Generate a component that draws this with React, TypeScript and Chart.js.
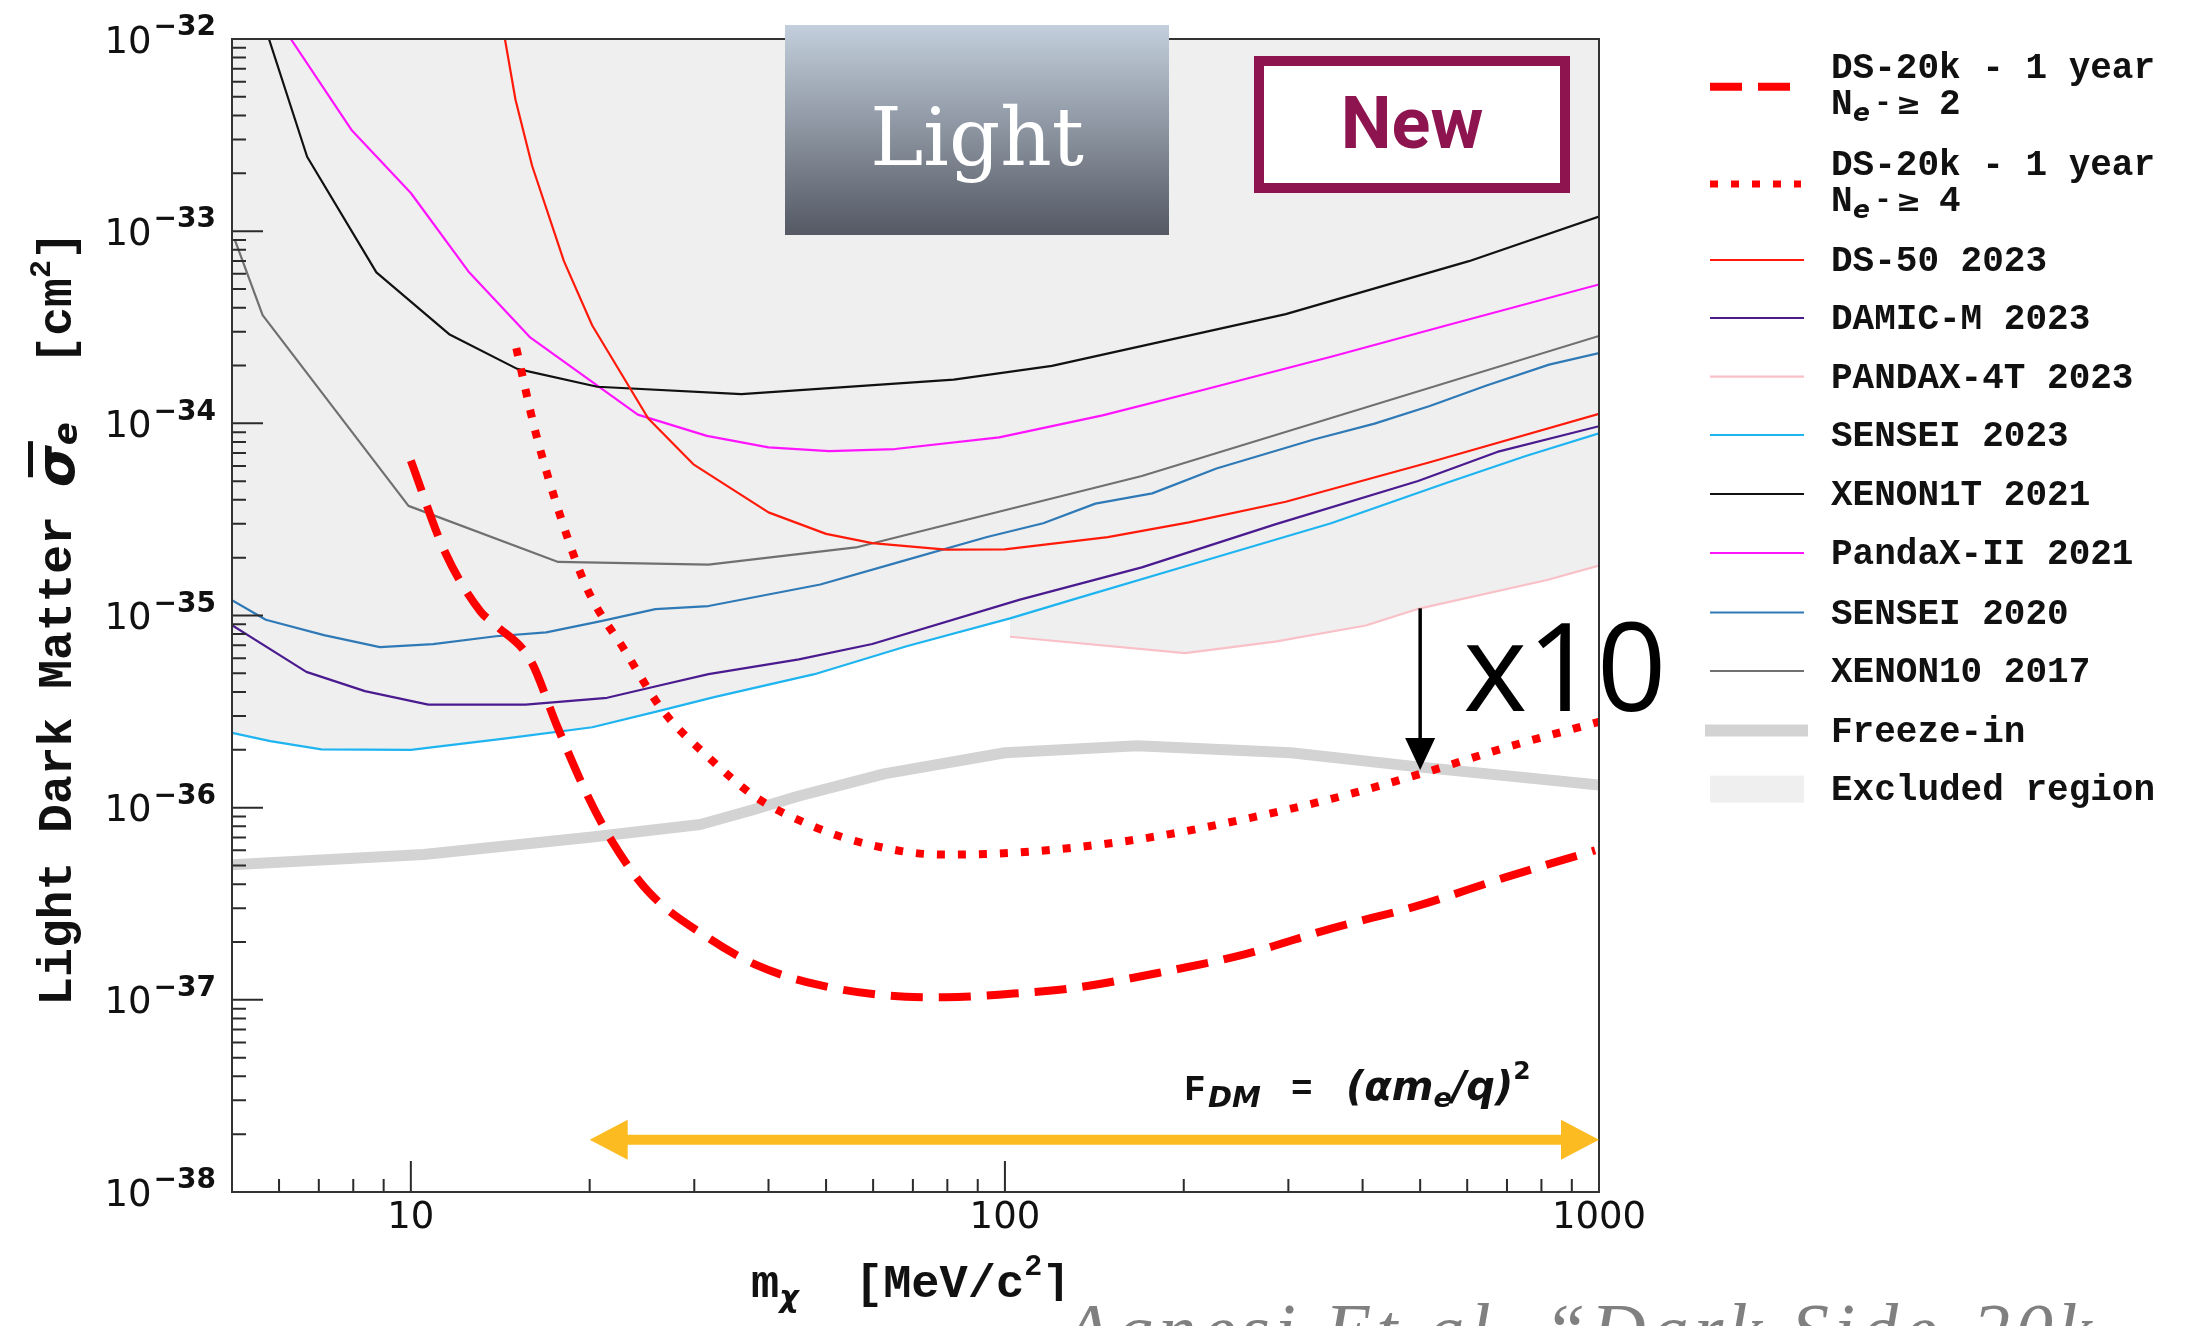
import { useEffect, useRef } from "react";
import { Chart, registerables } from "chart.js";

Chart.register(...registerables);

// Axis ranges (MeV/c^2 and cm^2)
const massMin = 5;
const massMax = 1000;
const sigmaMin = 1e-38;
const sigmaMax = 1e-32;
const xMajorTicks = [10, 100, 1000];
const xMajorLabels = ["10", "100", "1000"];
const yDecades = [-32, -33, -34, -35, -36, -37, -38];

// DarkSide-20k, 1 year, Ne- >= 2
const ds20kNe2Mass = [10, 11.4, 13.1, 13.9, 15.9, 17.6, 19.8, 21.8, 25.1, 31.7, 38.3, 47.8, 64, 79.6, 100, 130, 181, 254, 354, 496, 691, 985];
const ds20kNe2Sigma = [6.4e-35, 2.16e-35, 1.05e-35, 8.9e-36, 5.85e-36, 2.69e-36, 1.17e-36, 6.7e-37, 3.66e-37, 2.1e-37, 1.51e-37, 1.21e-37, 1.05e-37, 1.03e-37, 1.07e-37, 1.15e-37, 1.38e-37, 1.73e-37, 2.35e-37, 3.09e-37, 4.31e-37, 6.0e-37];

// DarkSide-20k, 1 year, Ne- >= 4
const ds20kNe4Mass = [15.05, 16.2, 17.9, 19.8, 22.9, 26.6, 31.7, 38, 47.8, 59.8, 78, 97.8, 130, 181, 260, 354, 501, 691, 1000];
const ds20kNe4Sigma = [2.46e-34, 9.1e-35, 3.21e-35, 1.38e-35, 6.6e-36, 3.18e-36, 1.83e-36, 1.14e-36, 7.94e-37, 6.37e-37, 5.7e-37, 5.77e-37, 6.19e-37, 7.11e-37, 8.88e-37, 1.11e-36, 1.5e-36, 2.04e-36, 2.8e-36];

// Freeze-in benchmark
const freezeInMass = [5, 10.5, 20.2, 30.7, 37.3, 45, 62.6, 100, 167, 303, 496, 1000];
const freezeInSigma = [5.05e-37, 5.7e-37, 7.04e-37, 8.18e-37, 9.66e-37, 1.15e-36, 1.5e-36, 1.93e-36, 2.1e-36, 1.93e-36, 1.63e-36, 1.31e-36];

// Existing limits
const ds50Mass = [14.4, 15.0, 16.0, 18.1, 20.2, 25.1, 29.9, 40, 50, 59.8, 79.6, 99.9, 149, 204, 297, 519, 1000];
const ds50Sigma = [1e-32, 4.84e-33, 2.19e-33, 6.98e-34, 3.23e-34, 1.06e-34, 6.12e-35, 3.44e-35, 2.66e-35, 2.38e-35, 2.2e-35, 2.21e-35, 2.56e-35, 3.05e-35, 3.91e-35, 6.27e-35, 1.12e-34];

const damicMass = [5, 6.67, 8.37, 10.7, 15.6, 21.4, 26.1, 31.7, 45, 59.8, 106, 170, 285, 496, 674, 1000];
const damicSigma = [8.9e-36, 5.09e-36, 4.04e-36, 3.44e-36, 3.44e-36, 3.73e-36, 4.31e-36, 4.95e-36, 5.91e-36, 7.11e-36, 1.21e-35, 1.78e-35, 2.98e-35, 5.01e-35, 7.1e-35, 9.66e-35];

const pandax4tMass = [102, 201, 285, 405, 500, 818, 1000];
const pandax4tSigma = [7.75e-36, 6.37e-36, 7.31e-36, 8.87e-36, 1.09e-35, 1.53e-35, 1.82e-35];

const sensei23Mass = [5, 5.8, 7.07, 10, 14.7, 20.2, 26.1, 32.4, 47.8, 68.3, 102, 130, 208, 354, 553, 753, 1000];
const sensei23Sigma = [2.45e-36, 2.22e-36, 2.01e-36, 2.0e-36, 2.31e-36, 2.62e-36, 3.18e-36, 3.76e-36, 4.95e-36, 6.92e-36, 9.66e-36, 1.21e-35, 1.86e-35, 3.02e-35, 4.89e-35, 6.76e-35, 8.87e-35];

const xenon1tMass = [5.77, 6.69, 8.75, 11.6, 15.1, 20.6, 36, 82, 120, 297, 604, 1000];
const xenon1tSigma = [1e-32, 2.44e-33, 6.1e-34, 2.91e-34, 1.92e-34, 1.55e-34, 1.42e-34, 1.69e-34, 1.99e-34, 3.7e-34, 6.98e-34, 1.19e-33];

const pandax2Mass = [6.28, 7.96, 10.0, 12.5, 15.9, 24.1, 31.5, 40, 50.6, 65.3, 97.8, 146, 217, 354, 553, 1000];
const pandax2Sigma = [1e-32, 3.34e-33, 1.58e-33, 6.17e-34, 2.79e-34, 1.11e-34, 8.6e-35, 7.5e-35, 7.16e-35, 7.35e-35, 8.45e-35, 1.1e-34, 1.5e-34, 2.22e-34, 3.23e-34, 5.28e-34];

const sensei20Mass = [5, 5.7, 7.14, 8.87, 10.9, 13.9, 16.9, 21.0, 25.8, 31.7, 48.9, 66.5, 93.3, 116, 142, 177, 227, 331, 419, 519, 645, 824, 1000];
const sensei20Sigma = [1.2e-35, 9.5e-36, 7.9e-36, 6.85e-36, 7.1e-36, 7.8e-36, 8.17e-36, 9.38e-36, 1.08e-35, 1.12e-35, 1.45e-35, 1.9e-35, 2.56e-35, 3.02e-35, 3.82e-35, 4.32e-35, 5.82e-35, 8.24e-35, 9.96e-35, 1.23e-34, 1.57e-34, 2.02e-34, 2.32e-34];

const xenon10Mass = [5.05, 5.63, 9.91, 17.7, 31.7, 56.1, 170, 1000];
const xenon10Sigma = [9.1e-34, 3.66e-34, 3.72e-35, 1.9e-35, 1.84e-35, 2.26e-35, 5.32e-35, 2.85e-34];

// Annotations in data coordinates
const x10ArrowMass = 500;
const x10ArrowSigma = [1.09e-35, 1.57e-36];
const fdmArrowMass = [20, 1000];
const fdmArrowSigma = 1.87e-38;

// Legend
const legendLabels = [
  "DS-20k - 1 year",
  "DS-20k - 1 year",
  "DS-50 2023",
  "DAMIC-M 2023",
  "PANDAX-4T 2023",
  "SENSEI 2023",
  "XENON1T 2021",
  "PandaX-II 2021",
  "SENSEI 2020",
  "XENON10 2017",
  "Freeze-in",
  "Excluded region",
];
const legendThresholds = ["2", "4"];

const MONO = "'Liberation Mono', 'DejaVu Sans Mono', monospace";
const SANS = "'DejaVu Sans', sans-serif";
const EXCLUDED = "#efefef";

type Series = {
  key: string;
  mass: number[];
  sigma: number[];
  color: string;
  width: number;
  dash?: number[];
  excluded?: boolean;
  smooth?: boolean;
};

// Earlier entries are painted on top
const series: Series[] = [
  { key: "ne2", mass: ds20kNe2Mass, sigma: ds20kNe2Sigma, color: "#ff0000", width: 8, dash: [32, 16], smooth: true },
  { key: "ne4", mass: ds20kNe4Mass, sigma: ds20kNe4Sigma, color: "#ff0000", width: 8, dash: [8, 13], smooth: true },
  { key: "freeze", mass: freezeInMass, sigma: freezeInSigma, color: "#d3d3d3", width: 11 },
  { key: "ds50", mass: ds50Mass, sigma: ds50Sigma, color: "#ff1a0a", width: 2.2, excluded: true },
  { key: "damic", mass: damicMass, sigma: damicSigma, color: "#4a1a8f", width: 2.2, excluded: true },
  { key: "pandax4t", mass: pandax4tMass, sigma: pandax4tSigma, color: "#f9c0c8", width: 2.2, excluded: true },
  { key: "sensei23", mass: sensei23Mass, sigma: sensei23Sigma, color: "#1eb4f0", width: 2.2, excluded: true },
  { key: "xenon1t", mass: xenon1tMass, sigma: xenon1tSigma, color: "#111111", width: 2.2, excluded: true },
  { key: "pandax2", mass: pandax2Mass, sigma: pandax2Sigma, color: "#ff14ff", width: 2.2, excluded: true },
  { key: "sensei20", mass: sensei20Mass, sigma: sensei20Sigma, color: "#2f7ab6", width: 2.2, excluded: true },
  { key: "xenon10", mass: xenon10Mass, sigma: xenon10Sigma, color: "#707070", width: 2.2, excluded: true },
];

const legendKeys = ["ne2", "ne4", "ds50", "damic", "pandax4t", "sensei23", "xenon1t", "pandax2", "sensei20", "xenon10", "freeze", "excluded"];

type Piece = { t: string; font: string; dy?: number };

function drawRun(ctx: CanvasRenderingContext2D, pieces: Piece[], x: number, y: number) {
  let cx = x;
  for (const p of pieces) {
    ctx.font = p.font;
    ctx.fillText(p.t, cx, y + (p.dy ?? 0));
    cx += ctx.measureText(p.t).width;
  }
  return cx;
}

function runWidth(ctx: CanvasRenderingContext2D, pieces: Piece[]) {
  let w = 0;
  for (const p of pieces) {
    ctx.font = p.font;
    w += ctx.measureText(p.t).width;
  }
  return w;
}

const decorPlugin = {
  id: "decor",
  afterDraw(chart: any) {
    const ctx: CanvasRenderingContext2D = chart.ctx;
    const { left, right, top, bottom } = chart.chartArea;
    const xs = chart.scales.x;
    const ys = chart.scales.y;
    ctx.save();

    // Inward tick marks
    ctx.strokeStyle = "#2b2b2b";
    ctx.lineWidth = 2;
    ctx.beginPath();
    for (const e of yDecades) {
      const y = ys.getPixelForValue(Math.pow(10, e));
      ctx.moveTo(left, y);
      ctx.lineTo(left + 31, y);
      if (e > -38) {
        for (let k = 2; k <= 9; k++) {
          const yy = ys.getPixelForValue(k * Math.pow(10, e - 1));
          ctx.moveTo(left, yy);
          ctx.lineTo(left + 14, yy);
        }
      }
    }
    for (let d = 0; d <= 2; d++) {
      for (let k = 1; k <= 9; k++) {
        const v = k * Math.pow(10, d);
        if (v <= massMin || v >= massMax) continue;
        const x = xs.getPixelForValue(v);
        ctx.moveTo(x, bottom);
        ctx.lineTo(x, bottom - (k === 1 ? 31 : 13));
      }
    }
    ctx.stroke();

    // Frame
    ctx.strokeStyle = "#333333";
    ctx.lineWidth = 2;
    ctx.strokeRect(left, top, right - left, bottom - top);

    // Y tick labels 10^n
    ctx.fillStyle = "#111111";
    ctx.textAlign = "left";
    ctx.textBaseline = "middle";
    for (const e of yDecades) {
      const y = ys.getPixelForValue(Math.pow(10, e));
      const sup = "\u2212" + Math.abs(e);
      ctx.font = `bold 28px ${SANS}`;
      const sw = ctx.measureText(sup).width;
      const supX = 216 - sw;
      ctx.fillText(sup, supX, y - 11);
      ctx.font = `37px ${SANS}`;
      const bw = ctx.measureText("10").width;
      ctx.fillText("10", supX - bw - 2, y + 4);
    }

    // X tick labels
    ctx.textAlign = "center";
    ctx.font = `37px ${SANS}`;
    xMajorTicks.forEach((v, i) => {
      ctx.fillText(xMajorLabels[i], xs.getPixelForValue(v), 1218);
    });

    // "Light" badge
    const grad = ctx.createLinearGradient(0, 25, 0, 235);
    grad.addColorStop(0, "#c3cfdc");
    grad.addColorStop(1, "#545964");
    ctx.fillStyle = grad;
    ctx.fillRect(785, 25, 384, 210);
    ctx.fillStyle = "#ffffff";
    ctx.textAlign = "center";
    ctx.textBaseline = "alphabetic";
    ctx.font = `80px 'DejaVu Serif', serif`;
    ctx.fillText("Light", 977, 165);

    // "New" badge
    ctx.fillStyle = "#ffffff";
    ctx.fillRect(1254, 56, 316, 137);
    ctx.strokeStyle = "#8e1450";
    ctx.lineWidth = 10;
    ctx.strokeRect(1259, 61, 306, 127);
    ctx.fillStyle = "#8e1450";
    ctx.font = `bold 72px Roboto, 'Open Sans', sans-serif`;
    ctx.fillText("New", 1412, 148);

    // x10 arrow
    const ax = xs.getPixelForValue(x10ArrowMass);
    const ay0 = ys.getPixelForValue(x10ArrowSigma[0]);
    const ay1 = ys.getPixelForValue(x10ArrowSigma[1]);
    ctx.strokeStyle = "#000000";
    ctx.lineWidth = 3.5;
    ctx.beginPath();
    ctx.moveTo(ax, ay0);
    ctx.lineTo(ax, ay1 - 30);
    ctx.stroke();
    ctx.fillStyle = "#000000";
    ctx.beginPath();
    ctx.moveTo(ax, ay1);
    ctx.lineTo(ax - 15, ay1 - 32);
    ctx.lineTo(ax + 15, ay1 - 32);
    ctx.closePath();
    ctx.fill();
    ctx.textAlign = "left";
    ctx.font = `122px 'Open Sans', sans-serif`;
    ctx.fillText("x10", ax + 43, 711);

    // F_DM label
    ctx.fillStyle = "#111111";
    ctx.font = `bold 36px ${MONO}`;
    ctx.fillText("F", 1184, 1100);
    ctx.font = `bold italic 29px ${SANS}`;
    ctx.fillText("DM", 1208, 1107);
    ctx.font = `bold 36px ${MONO}`;
    ctx.fillText("=", 1291, 1100);
    drawRun(
      ctx,
      [
        { t: "(\u03b1m", font: `bold italic 40px ${SANS}` },
        { t: "e", font: `bold italic 27px ${SANS}`, dy: 7 },
        { t: "/q)", font: `bold italic 40px ${SANS}` },
        { t: "2", font: `bold 25px ${SANS}`, dy: -21 },
      ],
      1346,
      1100
    );

    // F_DM validity arrow
    const fy = ys.getPixelForValue(fdmArrowSigma);
    const fx0 = xs.getPixelForValue(fdmArrowMass[0]);
    const fx1 = xs.getPixelForValue(fdmArrowMass[1]);
    ctx.fillStyle = "#fbbb21";
    ctx.fillRect(fx0 + 36, fy - 5, fx1 - fx0 - 72, 10);
    ctx.beginPath();
    ctx.moveTo(fx0, fy);
    ctx.lineTo(fx0 + 38, fy - 20);
    ctx.lineTo(fx0 + 38, fy + 20);
    ctx.closePath();
    ctx.fill();
    ctx.beginPath();
    ctx.moveTo(fx1, fy);
    ctx.lineTo(fx1 - 38, fy - 20);
    ctx.lineTo(fx1 - 38, fy + 20);
    ctx.closePath();
    ctx.fill();

    // Legend
    const rowY = [86.7, 184, 260, 318, 376.7, 435, 494, 553, 612.5, 671, 730.6, 788.6];
    const lx0 = 1710;
    const lx1 = 1804;
    const tx = 1831;
    legendKeys.forEach((key, i) => {
      const y = rowY[i];
      if (key === "excluded") {
        ctx.fillStyle = EXCLUDED;
        ctx.fillRect(lx0, y - 13, lx1 - lx0, 27);
      } else {
        const s = series.find((q) => q.key === key)!;
        ctx.strokeStyle = s.color;
        ctx.lineWidth = key === "freeze" ? 12 : key === "ne4" ? 7 : s.width;
        ctx.setLineDash(s.dash ?? []);
        ctx.lineCap = "butt";
        ctx.beginPath();
        ctx.moveTo(key === "freeze" ? lx0 - 5 : lx0, y);
        ctx.lineTo(key === "freeze" ? lx1 + 4 : key === "ne4" ? lx1 - 3 : lx1, y);
        ctx.stroke();
        ctx.setLineDash([]);
      }
      ctx.fillStyle = "#111111";
      ctx.textAlign = "left";
      ctx.textBaseline = "alphabetic";
      if (key === "ne2" || key === "ne4") {
        ctx.font = `bold 36px ${MONO}`;
        ctx.fillText(legendLabels[i], tx, y - 20 + 11);
        const by = y + 16 + 11;
        ctx.fillText("N", tx, by);
        ctx.font = `bold italic 25px ${SANS}`;
        ctx.fillText("e", tx + 22, by + 7);
        ctx.font = `bold 30px ${MONO}`;
        ctx.fillText("-", tx + 43, by - 3);
        ctx.font = `bold 30px ${SANS}`;
        ctx.fillText("\u2265", tx + 65, by);
        ctx.font = `bold 36px ${MONO}`;
        ctx.fillText(legendThresholds[i], tx + 108, by);
      } else {
        ctx.font = `bold 36px ${MONO}`;
        ctx.fillText(legendLabels[i], tx, y + 11);
      }
    });

    // Y axis title
    ctx.save();
    ctx.translate(56, 618.5);
    ctx.rotate(-Math.PI / 2);
    ctx.fillStyle = "#111111";
    const yTitle: Piece[] = [
      { t: "Light Dark Matter ", font: `bold 48px ${MONO}` },
      { t: "\u03c3", font: `bold italic 54px ${SANS}`, dy: 3 },
      { t: "e", font: `bold italic 34px ${SANS}`, dy: 6 },
      { t: "  [cm", font: `bold 48px ${MONO}` },
      { t: "2", font: `bold 30px ${MONO}`, dy: -21 },
      { t: "]", font: `bold 48px ${MONO}` },
    ];
    const tw = runWidth(ctx, yTitle);
    const start = -tw / 2;
    drawRun(ctx, yTitle, start, 15);
    ctx.font = `bold 48px ${MONO}`;
    const sigX = start + ctx.measureText("Light Dark Matter ").width;
    ctx.font = `bold italic 54px ${SANS}`;
    const sigW = ctx.measureText("\u03c3").width;
    ctx.fillRect(sigX + 10, 15 + 3 - 46, sigW - 6, 5);
    ctx.restore();

    // X axis title
    ctx.fillStyle = "#111111";
    drawRun(
      ctx,
      [
        { t: "m", font: `bold 47px ${MONO}` },
        { t: "\u03c7", font: `bold italic 30px ${SANS}`, dy: 10 },
        { t: "  [MeV/c", font: `bold 47px ${MONO}` },
        { t: "2", font: `bold 30px ${MONO}`, dy: -22 },
        { t: "]", font: `bold 47px ${MONO}` },
      ],
      751,
      1297
    );

    // Citation strip along the bottom edge
    ctx.fillStyle = "#ffffff";
    ctx.fillRect(1048, 1301, 2188 - 1048, 30);
    ctx.fillStyle = "#808080";
    ctx.font = `italic 76px 'Liberation Serif', serif`;
    (ctx as any).letterSpacing = "5px";
    ctx.fillText("Agnesi Et al. \u201cDark Side-20k", 1064, 1356);
    (ctx as any).letterSpacing = "0px";

    ctx.restore();
  },
};

export default function App() {
  const canvasRef = useRef<HTMLCanvasElement>(null);

  useEffect(() => {
    const canvas = canvasRef.current;
    if (!canvas) return;
    const datasets = series.map((s) => ({
      label: s.key,
      data: s.mass.map((m, i) => ({ x: m, y: s.sigma[i] })),
      borderColor: s.color,
      borderWidth: s.width,
      borderDash: s.dash ?? [],
      borderCapStyle: "butt" as const,
      borderJoinStyle: "round" as const,
      pointRadius: 0,
      pointHoverRadius: 0,
      fill: s.excluded ? "end" : false,
      backgroundColor: EXCLUDED,
      tension: 0,
      cubicInterpolationMode: (s.smooth ? "monotone" : "default") as any,
    }));

    const chart = new Chart(canvas, {
      type: "line",
      data: { datasets },
      options: {
        responsive: false,
        devicePixelRatio: 1,
        animation: false,
        events: [],
        layout: { padding: { left: 232, top: 39, right: 2188 - 1599, bottom: 1326 - 1192 } },
        scales: {
          x: { type: "logarithmic", min: massMin, max: massMax, display: false },
          y: { type: "logarithmic", min: sigmaMin, max: sigmaMax, display: false },
        },
        plugins: {
          legend: { display: false },
          tooltip: { enabled: false },
          filler: { drawTime: "beforeDatasetsDraw" },
        } as any,
      },
      plugins: [decorPlugin],
    });
    return () => chart.destroy();
  }, []);

  return (
    <div style={{ position: "absolute", left: 0, top: 0, width: 2188, height: 1326, background: "#ffffff" }}>
      <canvas ref={canvasRef} width={2188} height={1326} style={{ display: "block" }} />
    </div>
  );
}
